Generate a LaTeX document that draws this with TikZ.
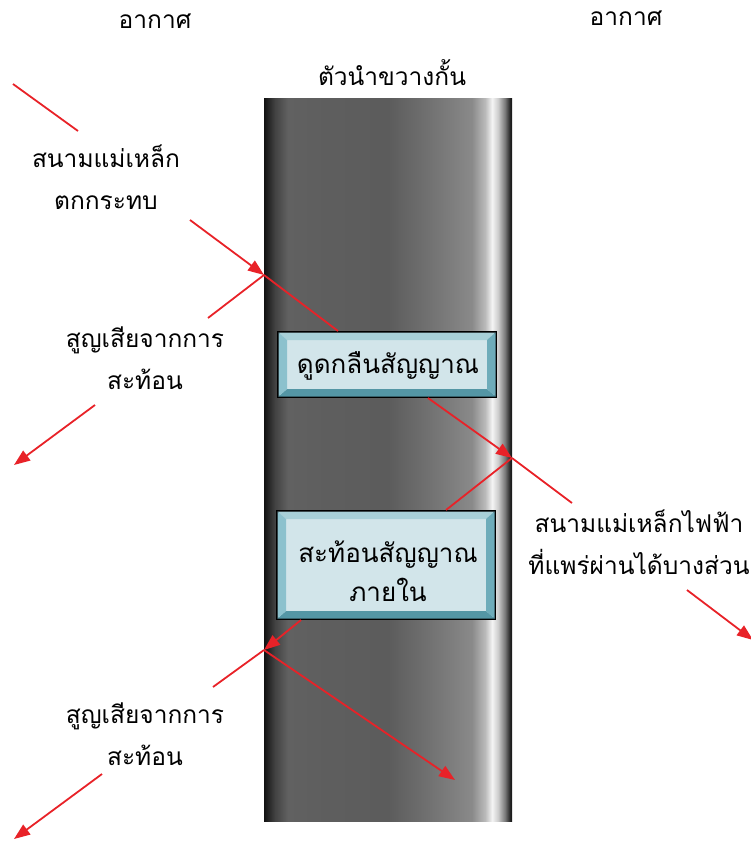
\documentclass[tikz,border=0pt]{standalone}
\usepackage{fontspec}
\newfontfamily\thaifont[Script=Thai]{Loma}
\usetikzlibrary{arrows.meta,calc}
\definecolor{arrred}{RGB}{232,34,40}
\definecolor{bevtop}{RGB}{168,208,216}
\definecolor{bevleft}{RGB}{140,193,205}
\definecolor{bevbot}{RGB}{84,150,165}
\definecolor{bevright}{RGB}{110,172,186}
\definecolor{boxface}{RGB}{210,229,234}
\pgfdeclarehorizontalshading{slabshade}{100bp}{%
rgb(0bp)=(0.07,0.07,0.07);
rgb(25bp)=(0.07,0.07,0.07);
rgb(25.8bp)=(0.14,0.14,0.14);
rgb(27.2bp)=(0.26,0.26,0.26);
rgb(29.8bp)=(0.38,0.38,0.38);
rgb(36.7bp)=(0.37,0.37,0.37);
rgb(50bp)=(0.36,0.36,0.36);
rgb(56.9bp)=(0.43,0.43,0.43);
rgb(63.5bp)=(0.50,0.50,0.50);
rgb(66.9bp)=(0.54,0.54,0.54);
rgb(69.6bp)=(0.73,0.73,0.73);
rgb(71.0bp)=(0.96,0.96,0.96);
rgb(72.2bp)=(0.80,0.80,0.80);
rgb(73.6bp)=(0.47,0.47,0.47);
rgb(74.6bp)=(0.14,0.14,0.14);
rgb(75bp)=(0.08,0.08,0.08);
rgb(100bp)=(0.08,0.08,0.08)}
\tikzset{
  lbl/.style={font=\thaifont\fontsize{24.5}{42}\selectfont, align=center, inner sep=0pt},
  boxtxt/.style={font=\thaifont\fontsize{26}{39}\selectfont, align=center, inner sep=0pt},
  ray/.style={draw=arrred, line width=1.8pt},
  rayarrow/.style={ray, -{Triangle[length=16pt,width=12pt]}},
  bevbox/.style={draw=black, line width=3pt, fill=boxface, inner sep=0pt, minimum width=217pt},
}
\newcommand{\drawbevel}[1]{%
  \fill[bevtop] ($(#1.north west)+(1.5,1.5)$) -- ($(#1.north east)+(-1.5,1.5)$) -- ($(#1.north east)+(-10,9)$) -- ($(#1.north west)+(10,9)$) -- cycle;
  \fill[bevbot] ($(#1.south west)+(1.5,-1.5)$) -- ($(#1.south east)+(-1.5,-1.5)$) -- ($(#1.south east)+(-10,-9)$) -- ($(#1.south west)+(10,-9)$) -- cycle;
  \fill[bevleft] ($(#1.north west)+(1.5,1.5)$) -- ($(#1.north west)+(10,9)$) -- ($(#1.south west)+(10,-9)$) -- ($(#1.south west)+(1.5,-1.5)$) -- cycle;
  \fill[bevright] ($(#1.north east)+(-1.5,1.5)$) -- ($(#1.north east)+(-10,9)$) -- ($(#1.south east)+(-10,-9)$) -- ($(#1.south east)+(-1.5,-1.5)$) -- cycle;
}
\begin{document}
\begin{tikzpicture}[x=1pt,y=-1pt]
\useasboundingbox (0,0) rectangle (750,841);
% slab
\shade[shading=slabshade] (264,98) rectangle (512,821);
% coordinates
\coordinate (i0) at (13,84);
\coordinate (i1) at (78,131);
\coordinate (i2) at (190,220);
\coordinate (P1) at (264,275);
\coordinate (r1) at (208,318);
\coordinate (r2) at (95,405);
\coordinate (r3) at (14,465);
\coordinate (P2) at (512,458);
\coordinate (t1) at (572,503);
\coordinate (t2) at (687,590);
\coordinate (t3) at (753,640);
\coordinate (P3) at (264,650);
\coordinate (s1) at (213,687);
\coordinate (s2) at (102,774);
\coordinate (s3) at (14,839);
\coordinate (q1) at (455,780);
% boxes
\node[bevbox, minimum height=64pt] (b1) at (387,364.5) {};
\node[bevbox, minimum height=107pt] (b2) at (386,565) {};
\drawbevel{b1}
\drawbevel{b2}
\node[boxtxt] (b1t) at (388,366) {ดูดกลืนสัญญาณ};
\node[boxtxt] (b2t) at (388,571) {สะท้อนสัญญาณ\\ภายใน};
% rays
\draw[ray] (i0) -- (i1);
\draw[rayarrow] (i2) -- (P1);
\draw[ray] (P1) -- (b1.north west -| 338,0);
\draw[rayarrow] (b1.south west -| 428,0) -- (P2);
\draw[ray] (P2) -- (t1);
\draw[rayarrow] (t2) -- (t3);
\draw[ray] (P1) -- (r1);
\draw[rayarrow] (r2) -- (r3);
\draw[ray] (P2) -- (b2.north west -| 446,0);
\draw[rayarrow] (b2.south west -| 301,0) -- (P3);
\draw[ray] (P3) -- (s1);
\draw[rayarrow] (s2) -- (s3);
\draw[rayarrow] (P3) -- (q1);
% labels
\node[lbl] (air1) at (155,21) {อากาศ};
\node[lbl] (air2) at (626,18) {อากาศ};
\node[lbl] (cond) at (392,73) {ตัวนำขวางกั้น};
\node[lbl] (inc) at (106,177) {สนามแม่เหล็ก\\ตกกระทบ};
\node[lbl] (ref1) at (145,358) {สูญเสียจากการ\\สะท้อน};
\node[lbl] (trans) at (639,542) {สนามแม่เหล็กไฟฟ้า\\ที่แพร่ผ่านได้บางส่วน};
\node[lbl] (ref2) at (145,734) {สูญเสียจากการ\\สะท้อน};
\end{tikzpicture}
\end{document}
